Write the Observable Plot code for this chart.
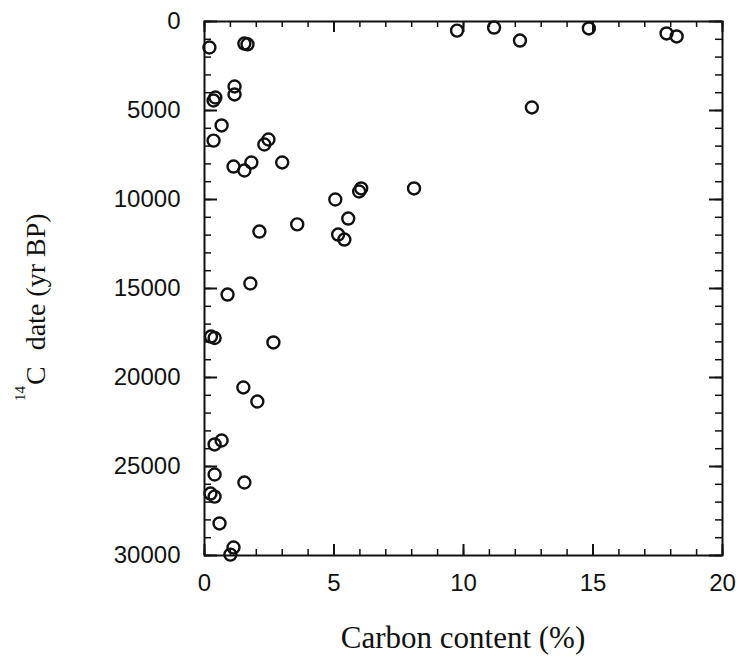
<!DOCTYPE html>
<html><head><meta charset="utf-8">
<script src="https://cdn.jsdelivr.net/npm/d3@7"></script>
<script src="https://cdn.jsdelivr.net/npm/@observablehq/plot@0.6"></script>
<style>body{margin:0;background:#fff}</style>
</head><body><div id="chart"></div>
<script>
const carbon = [0.19,1.54,1.66,1.16,1.16,0.35,0.42,0.66,0.35,2.31,2.47,1.12,1.54,1.81,3.0,5.05,5.97,6.05,5.55,3.58,2.12,5.16,5.4,1.77,0.89,0.25,0.39,2.66,1.5,2.04,0.66,0.39,0.39,1.54,0.23,0.39,0.58,1.12,1.0,9.75,11.18,12.18,14.84,17.84,18.23,12.64,8.09];
const age = [1460,1240,1280,3650,4100,4440,4270,5840,6690,6910,6630,8150,8370,7920,7920,10000,9550,9380,11070,11400,11800,11970,12250,14720,15340,17700,17780,18030,20560,21350,23540,23760,25450,25900,26520,26690,28200,29550,29950,510,340,1070,390,670,840,4830,9380];
const xMajor = [0,5,10,15,20];
const xMinor = d3.range(0,21,1);
const yMajor = [0,5000,10000,15000,20000,25000,30000];
const yMinor = d3.range(0,30001,1000);

const data = carbon.map((c,i)=>({c, a: age[i]}));
const font = "Liberation Sans, Arial, sans-serif";
const W = 744, H = 662, mL = 204, mR = 22, mT = 21, mB = 107;
const iw = W - mL - mR, ih = H - mT - mB;

const plot = Plot.plot({
  width: W, height: H,
  marginLeft: mL, marginRight: mR, marginTop: mT, marginBottom: mB,
  style: {fontFamily: font, fontSize: "24px", color: "#111", background: "#fff"},
  x: {domain: [0,20]},
  y: {domain: [0,30000], reverse: true},
  marks: [
    Plot.frame({stroke: "#111", strokeWidth: 2}),
    // inward ticks
    Plot.ruleX(xMinor, {x: d => d, insetTop: ih - 6, stroke: "#111", strokeWidth: 1.5}),
    Plot.ruleX(xMajor, {x: d => d, insetTop: ih - 11, stroke: "#111", strokeWidth: 2}),
    Plot.ruleX(xMinor, {x: d => d, insetBottom: ih - 6, stroke: "#111", strokeWidth: 1.5}),
    Plot.ruleX(xMajor, {x: d => d, insetBottom: ih - 11, stroke: "#111", strokeWidth: 2}),
    Plot.ruleY(yMinor, {y: d => d, insetRight: iw - 7, stroke: "#111", strokeWidth: 1.5}),
    Plot.ruleY(yMajor, {y: d => d, insetRight: iw - 13, stroke: "#111", strokeWidth: 2}),
    Plot.ruleY(yMinor, {y: d => d, insetLeft: iw - 7, stroke: "#111", strokeWidth: 1.5}),
    Plot.ruleY(yMajor, {y: d => d, insetLeft: iw - 13, stroke: "#111", strokeWidth: 2}),
    // labels
    Plot.axisX(xMajor, {anchor: "bottom", tickSize: 0, tickPadding: 18, tickFormat: d => String(d), fontSize: 24, label: null}),
    Plot.axisY(yMajor, {anchor: "left", tickSize: 0, tickPadding: 24, tickFormat: d => String(d), fontSize: 24, label: null}),
    Plot.dot(data, {x: "c", y: "a", r: 6, stroke: "#111", strokeWidth: 2.4, fill: "none"})
  ]
});
document.getElementById("chart").appendChild(plot);

const svg = d3.select(plot);
svg.append("text")
  .attr("x", 463).attr("y", 648)
  .attr("text-anchor", "middle")
  .attr("font-family", "Liberation Serif, Times New Roman, serif")
  .attr("font-size", 31)
  .attr("fill", "#111")
  .text("Carbon content (%)");

const yt = svg.append("text")
  .attr("transform", "translate(45,401) rotate(-90)")
  .attr("text-anchor", "start")
  .attr("font-family", "Liberation Serif, Times New Roman, serif")
  .attr("font-size", 28)
  .attr("fill", "#111");
yt.append("tspan").attr("font-size", 15).attr("dy", -20).text("14");
yt.append("tspan").attr("dy", 20).attr("dx", 1).text("C");
yt.append("tspan").attr("dx", 16).text("date (yr BP)");
</script></body></html>
